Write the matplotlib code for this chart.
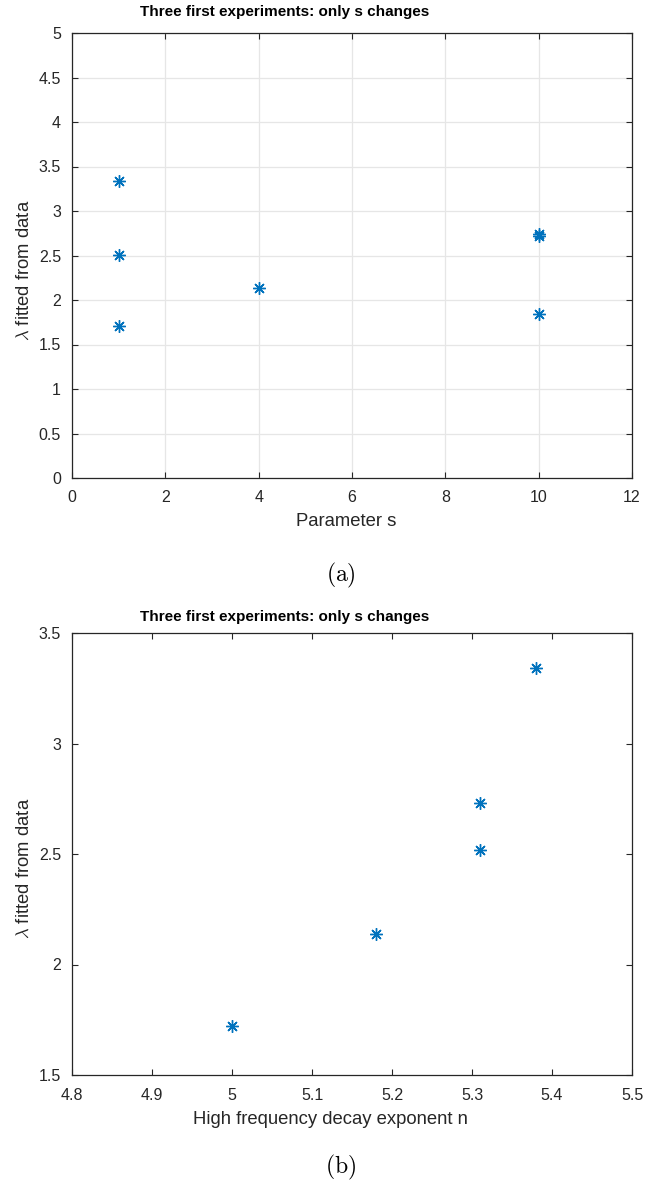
import matplotlib
matplotlib.use("Agg")
import matplotlib.pyplot as plt

plt.rcParams['font.family'] = ['Liberation Sans', 'DejaVu Sans']
plt.rcParams['mathtext.fontset'] = 'cm'

# Panel (a)
s_values = [1, 1, 1, 4, 10, 10, 10]
lambda_a = [3.34, 2.51, 1.71, 2.13, 2.72, 2.74, 1.84]
xticks_a = [0, 2, 4, 6, 8, 10, 12]
yticks_a = [0, 0.5, 1, 1.5, 2, 2.5, 3, 3.5, 4, 4.5, 5]

# Panel (b)
n_values = [5.0, 5.18, 5.31, 5.31, 5.38]
lambda_b = [1.72, 2.14, 2.73, 2.52, 3.34]
xticks_b = [4.8, 4.9, 5.0, 5.1, 5.2, 5.3, 5.4, 5.5]
yticks_b = [1.5, 2, 2.5, 3, 3.5]

title = "Three first experiments: only s changes"
color = '#0072BD'
axcol = '#262626'

fig = plt.figure(figsize=(6.56, 11.85), dpi=100)
W, H = 656, 1185
LEFT, RIGHT = 72, 632

def fmt(v):
    return ('%g' % v)

def style(ax, xt, yt, grid):
    ax.set_xticks(xt)
    ax.set_yticks(yt)
    ax.set_xticklabels([fmt(v) for v in xt])
    ax.set_yticklabels([fmt(v) for v in yt])
    ax.tick_params(direction='in', length=4, width=0.8, colors=axcol,
                   labelsize=11.5, top=True, right=True)
    ax.tick_params(axis='x', pad=9)
    ax.tick_params(axis='y', pad=8)
    for sp in ax.spines.values():
        sp.set_color(axcol)
        sp.set_linewidth(0.9)
    if grid:
        ax.grid(True, color='#e6e6e6', linewidth=0.9)
        ax.set_axisbelow(True)

def place_labels(ax, top, bottom, xl_x, xl_y, yl_x, yl_y):
    w = RIGHT - LEFT
    h = bottom - top
    ax.xaxis.set_label_coords((xl_x - LEFT) / w, (bottom - xl_y) / h)
    ax.yaxis.set_label_coords((yl_x - LEFT) / w, (bottom - yl_y) / h)

# ---- panel (a)
top1, bot1 = 33, 478
ax1 = fig.add_axes([LEFT / W, 1 - bot1 / H, (RIGHT - LEFT) / W, (bot1 - top1) / H])
ax1.plot(s_values, lambda_a, linestyle='none', marker=(8, 2, 0), markersize=9,
         markeredgewidth=1.0, color=color)
ax1.set_xlim(0, 12)
ax1.set_ylim(0, 5)
style(ax1, xticks_a, yticks_a, True)
ax1.set_xlabel('Parameter s', fontsize=13.3, color=axcol, va='center')
ax1.set_ylabel(r'$\lambda$ fitted from data', fontsize=13.3, color=axcol,
               va='center')
place_labels(ax1, top1, bot1, 346, 521, 24, 270)
fig.text(285 / W, 1 - 12 / H, title, ha='center', va='center',
         fontsize=11, fontweight='bold', color='black')
fig.text(341 / W, 1 - 575 / H, r'$\mathrm{(a)}$', ha='center', va='center',
         fontsize=17)

# ---- panel (b)
top2, bot2 = 633, 1075
ax2 = fig.add_axes([LEFT / W, 1 - bot2 / H, (RIGHT - LEFT) / W, (bot2 - top2) / H])
ax2.plot(n_values, lambda_b, linestyle='none', marker=(8, 2, 0), markersize=9,
         markeredgewidth=1.0, color=color)
ax2.set_xlim(4.8, 5.5)
ax2.set_ylim(1.5, 3.5)
style(ax2, xticks_b, yticks_b, False)
ax2.set_xlabel('High frequency decay exponent n', fontsize=13.3, color=axcol,
               va='center')
ax2.set_ylabel(r'$\lambda$ fitted from data', fontsize=13.3, color=axcol,
               va='center')
place_labels(ax2, top2, bot2, 330, 1119, 24, 868)
fig.text(285 / W, 1 - 617 / H, title, ha='center', va='center',
         fontsize=11, fontweight='bold', color='black')
fig.text(341 / W, 1 - 1167 / H, r'$\mathrm{(b)}$', ha='center', va='center',
         fontsize=17)

fig.savefig('out.png', dpi=100, facecolor='white')
